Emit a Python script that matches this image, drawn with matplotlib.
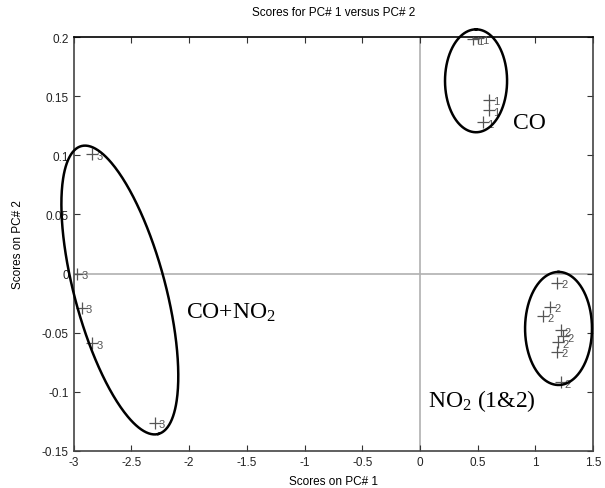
import numpy as np
import matplotlib
matplotlib.use("Agg")
import matplotlib.pyplot as plt

# Data: PC1 / PC2 scores per class
pc1_g1 = [0.46, 0.50, 0.60, 0.60, 0.55]
pc2_g1 = [0.198, 0.199, 0.147, 0.138, 0.128]
pc1_g2 = [1.19, 1.13, 1.07, 1.22, 1.24, 1.20, 1.19, 1.22]
pc2_g2 = [-0.008, -0.028, -0.036, -0.048, -0.053, -0.058, -0.066, -0.092]
pc1_g3 = [-2.84, -2.97, -2.93, -2.84, -2.30]
pc2_g3 = [0.101, 0.0, -0.029, -0.059, -0.126]
groups = [("1", pc1_g1, pc2_g1), ("2", pc1_g2, pc2_g2), ("3", pc1_g3, pc2_g3)]

xticks = [-3, -2.5, -2, -1.5, -1, -0.5, 0, 0.5, 1, 1.5]
yticks = [-0.15, -0.1, -0.05, 0, 0.05, 0.1, 0.15, 0.2]
xtick_labels = ["-3", "-2.5", "-2", "-1.5", "-1", "-0.5", "0", "0.5", "1", "1.5"]
ytick_labels = ["-0.15", "-0.1", "-0.05", "0", "0.05", "0.1", "0.15", "0.2"]

serif = "Liberation Serif"
plt.rcParams["mathtext.fontset"] = "custom"
plt.rcParams["mathtext.rm"] = serif
plt.rcParams["mathtext.it"] = serif + ":italic"
plt.rcParams["mathtext.bf"] = serif + ":bold"

fig = plt.figure(figsize=(6.05, 4.89), dpi=100)
ax = fig.add_axes([0.122, 0.0757, 0.858, 0.8465])
ax.set_xlim(-3, 1.5)
ax.set_ylim(-0.15, 0.2)

ax.axhline(0, color="#b0b0b0", lw=1.2, zorder=1)
ax.axvline(0, color="#b0b0b0", lw=1.2, zorder=1)

for lab, xs, ys in groups:
    ax.plot(xs, ys, ls="none", marker="+", ms=9, mew=0.9, color="#555555", zorder=3)
    for x, y in zip(xs, ys):
        ax.annotate(lab, (x, y), xytext=(3, -1), textcoords="offset points",
                    fontsize=8, color="#555555", va="center", ha="left",
                    family="Liberation Sans", annotation_clip=False)

# Ellipses (annotation outlines)
t = np.linspace(0, 2 * np.pi, 400)
def ell(cx, cy, ax1, ay1, bx1, by1):
    return (cx + ax1 * np.cos(t) + bx1 * np.sin(t),
            cy + ay1 * np.cos(t) + by1 * np.sin(t))

ex, ey = ell(0.487, 0.163, 0.0, 0.0435, 0.269, 0.0)
ax.plot(ex, ey, color="black", lw=1.8, clip_on=False, zorder=4)
ex, ey = ell(1.202, -0.0464, 0.0, 0.0478, 0.29, 0.0)
ax.plot(ex, ey, color="black", lw=1.8, clip_on=False, zorder=4)
ex, ey = ell(-2.601, -0.0139, 0.334, -0.1217, 0.381, 0.00996)
ax.plot(ex, ey, color="black", lw=1.8, clip_on=False, zorder=4)

ax.text(0.81, 0.128, "CO", fontsize=17, family=serif, va="center", ha="left")
ax.text(-2.03, -0.032, r"CO+NO$_{\mathregular{2}}$", fontsize=17, family=serif, va="center", ha="left")
ax.text(0.07, -0.107, r"NO$_{\mathregular{2}}$ (1&2)", fontsize=17, family=serif, va="center", ha="left")

ax.set_xticks(xticks)
ax.set_xticklabels(xtick_labels)
ax.set_yticks(yticks)
ax.set_yticklabels(ytick_labels)
ax.tick_params(direction="in", top=True, right=True, labelsize=8.5, length=4,
               colors="#333333", labelcolor="#222222")
for lbl in ax.get_xticklabels() + ax.get_yticklabels():
    lbl.set_family("Liberation Sans")
for s in ax.spines.values():
    s.set_color("#444444")
    s.set_linewidth(1.2)
ax.spines["top"].set_color("black")

ax.set_title("Scores for PC# 1 versus PC# 2", fontsize=8.5, family="Liberation Sans", pad=16)
ax.set_xlabel("Scores on PC# 1", fontsize=8.5, family="Liberation Sans", labelpad=5)
ax.set_ylabel("Scores on PC# 2", fontsize=8.5, family="Liberation Sans", labelpad=13)

fig.savefig("out.png", dpi=100)
